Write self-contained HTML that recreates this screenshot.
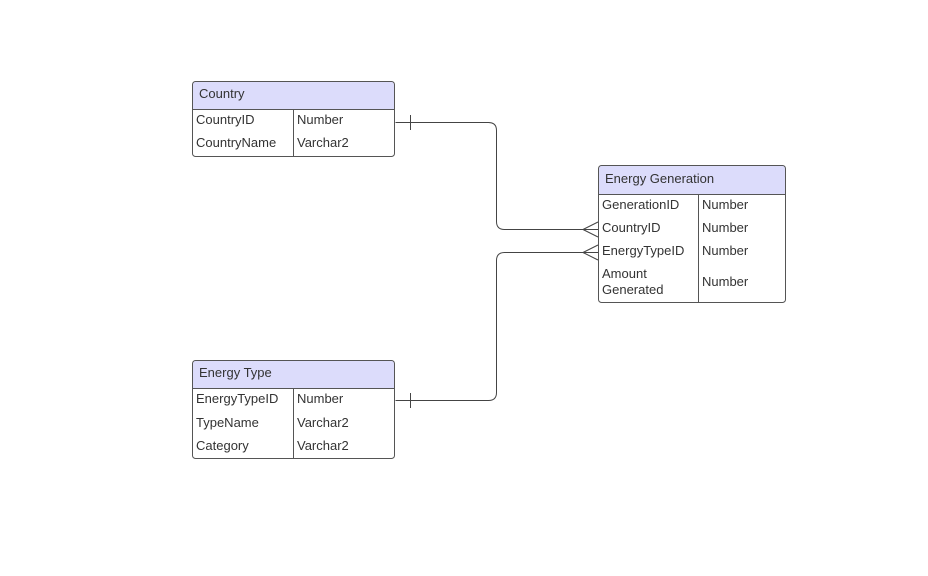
<!DOCTYPE html>
<html><head><style>body{margin:0;background:#fff}svg text{font-family:"Liberation Sans",sans-serif;font-size:13px;fill:#333}</style></head><body>
<svg width="928" height="571" xmlns="http://www.w3.org/2000/svg">
<g fill="none" stroke="#444" stroke-width="1">
<path d="M395.5 122.5 H488.5 Q496.5 122.5 496.5 130.5 V221.5 Q496.5 229.5 504.5 229.5 H598"/>
<path d="M410.5 115 V130"/>
<path d="M583 229.5 L598 222 M583 229.5 L598 237"/>
<path d="M395.5 400.5 H488.5 Q496.5 400.5 496.5 392.5 V260.5 Q496.5 252.5 504.5 252.5 H598"/>
<path d="M410.5 393 V408"/>
<path d="M583 252.5 L598 245 M583 252.5 L598 260"/>
</g>
<!-- Country -->
<path d="M192.5 109.5 V84.5 Q192.5 81.5 195.5 81.5 H391.5 Q394.5 81.5 394.5 84.5 V109.5 Z" fill="#dcdcfb"/>
<rect x="192.5" y="81.5" width="202" height="75" rx="3" fill="none" stroke="#555"/>
<path d="M192.5 109.5 H394.5 M293.5 109.5 V156.5" stroke="#555" fill="none"/>
<text x="199" y="98">Country</text>
<text x="196" y="124">CountryID</text><text x="297" y="124">Number</text>
<text x="196" y="147">CountryName</text><text x="297" y="147">Varchar2</text>
<!-- Energy Generation -->
<path d="M598.5 194.5 V168.5 Q598.5 165.5 601.5 165.5 H782.5 Q785.5 165.5 785.5 168.5 V194.5 Z" fill="#dcdcfb"/>
<rect x="598.5" y="165.5" width="187" height="137" rx="3" fill="none" stroke="#555"/>
<path d="M598.5 194.5 H785.5 M698.5 194.5 V302.5" stroke="#555" fill="none"/>
<text x="605" y="183">Energy Generation</text>
<text x="602" y="209">GenerationID</text><text x="702" y="209">Number</text>
<text x="602" y="232">CountryID</text><text x="702" y="232">Number</text>
<text x="602" y="255">EnergyTypeID</text><text x="702" y="255">Number</text>
<text x="602" y="278">Amount</text><text x="602" y="294">Generated</text><text x="702" y="286">Number</text>
<!-- Energy Type -->
<path d="M192.5 388.5 V363.5 Q192.5 360.5 195.5 360.5 H391.5 Q394.5 360.5 394.5 363.5 V388.5 Z" fill="#dcdcfb"/>
<rect x="192.5" y="360.5" width="202" height="98" rx="3" fill="none" stroke="#555"/>
<path d="M192.5 388.5 H394.5 M293.5 388.5 V458.5" stroke="#555" fill="none"/>
<text x="199" y="377">Energy Type</text>
<text x="196" y="403">EnergyTypeID</text><text x="297" y="403">Number</text>
<text x="196" y="427">TypeName</text><text x="297" y="427">Varchar2</text>
<text x="196" y="450">Category</text><text x="297" y="450">Varchar2</text>
</svg>
</body></html>
